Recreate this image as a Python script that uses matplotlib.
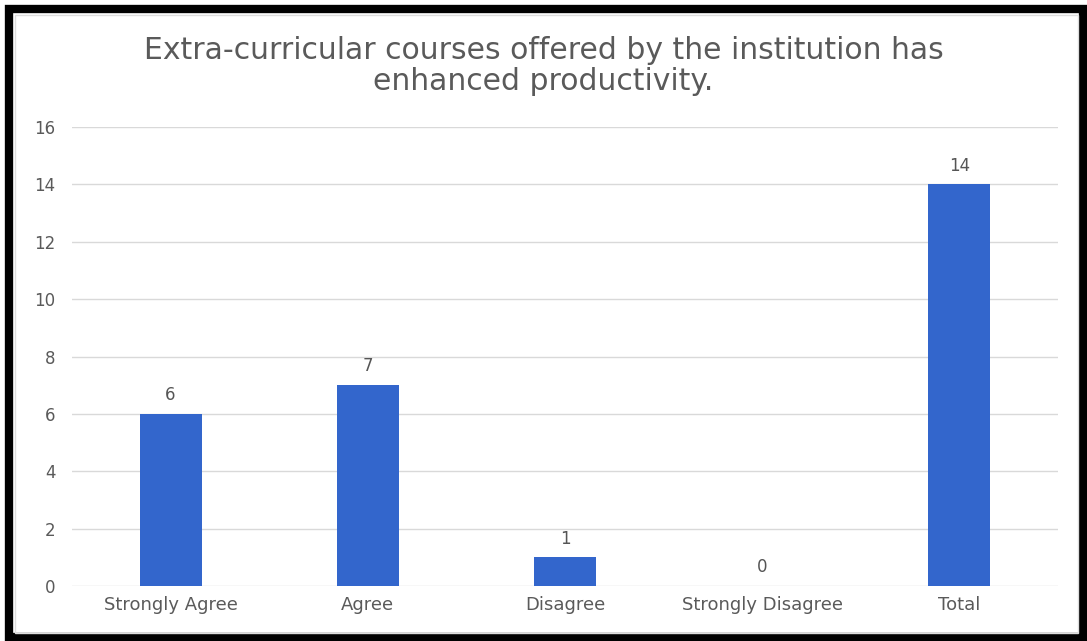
import matplotlib.pyplot as plt
from matplotlib.patches import Rectangle

categories = ["Strongly Agree", "Agree", "Disagree", "Strongly Disagree", "Total"]
counts = [6, 7, 1, 0, 14]
yticks = [0, 2, 4, 6, 8, 10, 12, 14, 16]
title = "Extra-curricular courses offered by the institution has\nenhanced productivity."

plt.rcParams['font.family'] = ['DejaVu Sans']

W, H = 1087, 641
fig = plt.figure(figsize=(W / 100, H / 100), dpi=100)
ax = fig.add_axes([72 / W, 1 - 586 / H, (1058 - 72) / W, (586 - 127) / H])

x = list(range(len(categories)))
bars = ax.bar(x, counts, width=0.315, color='#3366cc', zorder=3)
for b, v in zip(bars, counts):
  ax.annotate(str(v), (b.get_x() + b.get_width() / 2, v), xytext=(0, 7),
              textcoords='offset points', ha='center', va='bottom',
              fontsize=12, color='#555555')

ax.set_xlim(-0.5, len(categories) - 0.5)
ax.set_ylim(0, 16)
ax.set_yticks(yticks)
ax.set_xticks(x)
ax.set_xticklabels(categories)
ax.tick_params(axis='y', length=0, labelsize=12, labelcolor='#5a5a5a', pad=12)
ax.tick_params(axis='x', length=0, labelsize=13, labelcolor='#5a5a5a', pad=7.5)
ax.grid(axis='y', color='#d9d9d9', lw=1, zorder=0)
for s in ax.spines.values():
  s.set_visible(False)

fig.text(0.5, 1 - 66 / H, title, ha='center', va='center', fontsize=21.5,
         color='#5a5a5a', linespacing=1.05)

# outer black frame and inner light border
fig.patches.append(Rectangle((9 / W, 4 / H), (W - 13) / W, (H - 13) / H,
                             transform=fig.transFigure, fill=False,
                             edgecolor='black', lw=6))
fig.patches.append(Rectangle((15 / W, 8 / H), (1078 - 15) / W, (633 - 15) / H,
                             transform=fig.transFigure, fill=False,
                             edgecolor='#dddddd', lw=1))

fig.savefig('out.png', dpi=100)
